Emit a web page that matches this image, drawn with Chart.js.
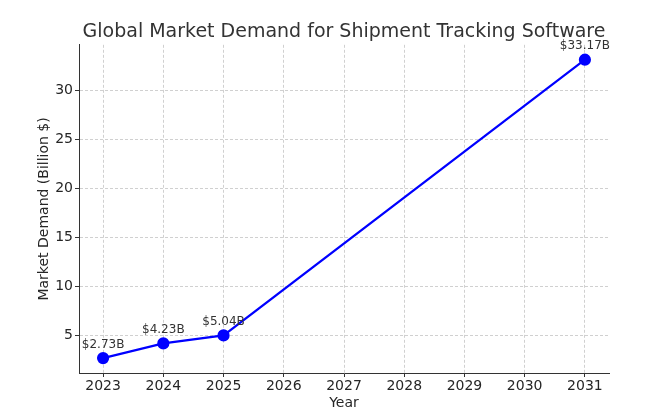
<!DOCTYPE html>
<html><head><meta charset="utf-8">
<script src="https://cdn.jsdelivr.net/npm/chart.js@4"></script>
<style>html,body{margin:0;padding:0;background:#fff}#wrap{width:649px;height:418px;position:relative}</style>
</head><body><div id="wrap"><canvas id="c"></canvas></div>
<script>
const years = [2023, 2024, 2025, 2031];
const demand = [2.73, 4.23, 5.04, 33.17];
const pointLabels = ["$2.73B", "$4.23B", "$5.04B", "$33.17B"];
const xTicks = [2023, 2024, 2025, 2026, 2027, 2028, 2029, 2030, 2031];
const yTicks = [5, 10, 15, 20, 25, 30];

const FONT = "'DejaVu Sans', sans-serif";
const labelPlugin = {
  id: 'pointLabels',
  afterDatasetsDraw(chart) {
    const ctx = chart.ctx;
    const meta = chart.getDatasetMeta(0);
    ctx.save();
    ctx.font = "12px " + FONT;
    ctx.fillStyle = '#333';
    ctx.textAlign = 'center';
    ctx.textBaseline = 'middle';
    meta.data.forEach((p, i) => {
      ctx.fillText(pointLabels[i], p.x, p.y - 13.5);
    });
    ctx.restore();
  }
};

new Chart(document.getElementById('c'), {
  type: 'line',
  data: {
    datasets: [{
      data: years.map((y, i) => ({x: y, y: demand[i]})),
      borderColor: '#0000ff',
      backgroundColor: '#0000ff',
      borderWidth: 2.2,
      pointRadius: 5,
      pointHoverRadius: 5,
      tension: 0
    }]
  },
  options: {
    responsive: true,
    maintainAspectRatio: false,
    animation: false,
    layout: {padding: {left: 32, right: 40, top: 0, bottom: 2}},
    plugins: {
      legend: {display: false},
      tooltip: {enabled: false},
      title: {
        display: true,
        text: 'Global Market Demand for Shipment Tracking Software',
        color: '#333',
        fullSize: false,
        font: {family: FONT, size: 19, weight: 'normal'},
        padding: {top: 21, bottom: 1}
      }
    },
    scales: {
      x: {
        type: 'linear',
        min: 2022.6,
        max: 2031.4,
        afterBuildTicks: s => { s.ticks = xTicks.map(v => ({value: v})); },
        afterFit: s => { s.height = 43; },
        ticks: {color: '#262626', font: {family: FONT, size: 14}, padding: 1, maxRotation: 0,
          callback: v => String(v)},
        grid: {color: '#d0d0d0', tickLength: 4, tickColor: '#333', tickBorderDash: [], drawTicks: true},
        border: {display: true, color: '#333', width: 1, dash: [3, 2]},
        title: {display: true, text: 'Year', color: '#262626', font: {family: FONT, size: 14}}
      },
      y: {
        type: 'linear',
        min: 1.208,
        max: 34.69,
        afterBuildTicks: s => { s.ticks = yTicks.map(v => ({value: v})); },
        afterFit: s => { s.width = 47; },
        ticks: {color: '#262626', font: {family: FONT, size: 14}, padding: 2},
        grid: {color: '#d0d0d0', tickLength: 4, tickColor: '#333', tickBorderDash: [], drawTicks: true},
        border: {display: true, color: '#333', width: 1, dash: [3, 2]},
        title: {display: true, text: 'Market Demand (Billion $)', color: '#262626', font: {family: FONT, size: 14}}
      }
    }
  },
  plugins: [labelPlugin]
});
</script></body></html>
